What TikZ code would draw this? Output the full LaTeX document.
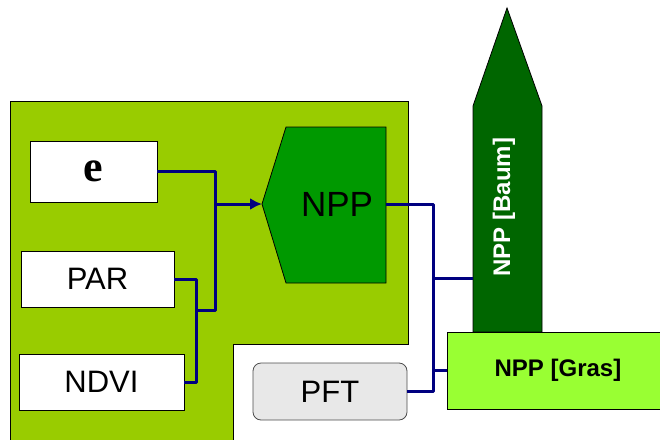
\documentclass[tikz,border=0pt]{standalone}
\usepackage{fontspec}
\setmainfont{Liberation Sans}
\newfontfamily\serifface{Liberation Serif}
\usepackage{tikz}
\usetikzlibrary{arrows.meta,positioning,calc}
\definecolor{leaf}{HTML}{99CC00}
\definecolor{nppgreen}{HTML}{009900}
\definecolor{treegreen}{HTML}{006600}
\definecolor{grasgreen}{HTML}{99FF33}
\definecolor{pftgray}{HTML}{E8E8E8}
\definecolor{wirenavy}{HTML}{000080}

\begin{document}
\begin{tikzpicture}[
  x=1pt,y=-1pt,
  every node/.style={align=center,inner sep=0pt},
  inbox/.style={draw=black,line width=0.8pt,fill=white,minimum height=56pt,font=\fontsize{31}{36}\selectfont},
  wire/.style={draw=wirenavy,line width=3pt,line join=round},
  arr/.style={wire,-{Latex[length=12pt,width=12pt]}},
  outline/.style={draw=black,line width=0.8pt}
]
\useasboundingbox (0,0) rectangle (660,439);
% model region
\filldraw[outline,fill=leaf] (10,445) -- (10,101) -- (408,101) -- (408,344) -- (233,344) -- (233,445);
% inputs
\node[inbox,minimum width=127pt,minimum height=61pt,font=\serifface\bfseries\fontsize{44}{48}\selectfont] (e) at (93.5,171.5) {e};
\node[inbox,minimum width=153pt] (par) at (97.5,279) {PAR};
\node[inbox,minimum width=165pt] (ndvi) at (101.5,382) {NDVI};
\node[inbox,fill=pftgray,draw=black!70,rounded corners=8pt,minimum width=154pt,minimum height=57pt] (pft) at (330,391.5) {PFT};
% NPP block
\filldraw[outline,fill=nppgreen] (262,204) -- (286,127) -- (386,127) -- (386,283) -- (286,283) -- cycle;
\coordinate (npptip) at (262,204);
\coordinate (nppout) at (386,204);
\node[font=\fontsize{35}{40}\selectfont] (npp) at (337,204) {NPP};
% tree and grass outputs
\filldraw[outline,fill=treegreen] (473,332) -- (473,106) -- (507,8) -- (542,106) -- (542,332) -- cycle;
\coordinate (baumin) at (473,278);
\node[rotate=90,text=white,font=\bfseries\fontsize{24}{28}\selectfont] (baum) at (504,207) {NPP [Baum]};
\node[outline,fill=grasgreen,minimum width=222pt,minimum height=77pt,font=\bfseries\fontsize{24}{28}\selectfont] (gras) at (558,370.5) {NPP [Gras]};
% connectors
\coordinate (busA) at (215,310);
\coordinate (busB) at (196,310);
\coordinate (busC) at (433,278);
\draw[wire] (e.east) -| (busA) -- (busB);
\draw[wire] (par.east) -| (busB) |- (ndvi.east);
\draw[arr] (busA |- npptip) -- (npptip);
\draw[wire] (nppout) -| (busC) |- (pft.east);
\draw[wire] (busC) -- (baumin);
\draw[wire] (busC |- gras.west) -- (gras.west);
\end{tikzpicture}
\end{document}
